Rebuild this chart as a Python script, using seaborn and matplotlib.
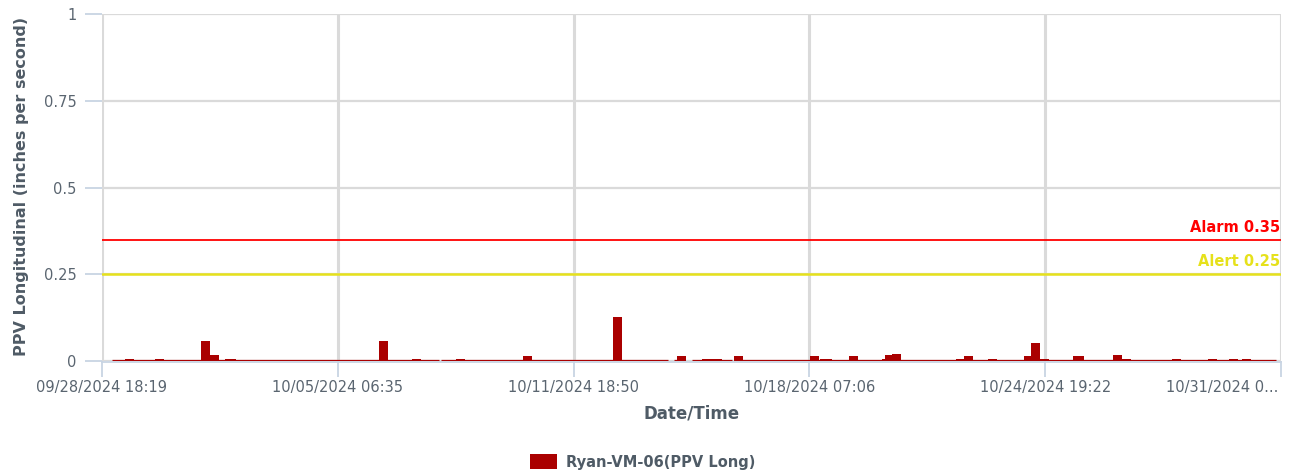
import matplotlib
matplotlib.use("Agg")
import numpy as np
import pandas as pd
import seaborn as sns
import matplotlib.pyplot as plt
import matplotlib.transforms as mtransforms
from matplotlib.patches import Patch

# ---- data (x in hours since 09/28/2024 18:19) ----
bar_hours = [18.2, 38.1, 68.6, 74.6, 76.5, 84.5, 85.8, 186.6, 208.4, 237.6,
             282.0, 341.6, 384.0, 400.6, 403.9, 407.9, 421.8, 472.2, 478.8, 480.8,
             498.0, 519.9, 521.9, 526.5, 568.9, 574.2, 590.1, 614.0, 618.6, 624.6,
             626.6, 646.5, 647.8, 673.0, 678.9, 682.3, 712.1, 735.9, 749.9, 758.5]
bar_values = [0.007, 0.007, 0.058, 0.016, 0.002, 0.007, 0.007, 0.058, 0.007, 0.007,
              0.013, 0.128, 0.013, 0.007, 0.007, 0.007, 0.013, 0.013, 0.007, 0.007,
              0.013, 0.007, 0.016, 0.021, 0.007, 0.013, 0.007, 0.013, 0.052, 0.007,
              0.002, 0.013, 0.013, 0.016, 0.007, 0.002, 0.007, 0.007, 0.007, 0.007]
# periods with tiny (near-zero) readings
baseline_start = [6.6, 224.6, 379.1, 391.0, 418.8]
baseline_end = [223.3, 375.1, 385.0, 417.5, 778.0]
baseline_value = 0.0017

tick_hours = [0, 156.27, 312.53, 468.8, 625.07, 781.33]
tick_labels = ["09/28/2024 18:19", "10/05/2024 06:35", "10/11/2024 18:50",
               "10/18/2024 07:06", "10/24/2024 19:22", "10/31/2024 0..."]
y_ticks = [0, 0.25, 0.5, 0.75, 1]
y_tick_labels = ["0", "0.25", "0.5", "0.75", "1"]
alarm_level = 0.35
alert_level = 0.25
series_name = "Ryan-VM-06(PPV Long)"
bar_width_hours = 6.0

# ---- style ----
BAR = "#aa0000"
GRID = "#dadada"
TICKC = "#c8d4e3"
TXT = "#5a6570"
TITLE = "#4f5b66"

sns.set_style("white")
plt.rcParams["font.family"] = ["DejaVu Sans"]

fig = plt.figure(figsize=(12.91, 4.75), dpi=100)
ax = fig.add_axes([102 / 1291, 1 - 361 / 475, (1281 - 102) / 1291, (361 - 14) / 475])

df = pd.DataFrame({"hours": bar_hours, "ppv": bar_values})
min_gap = np.min(np.diff(np.unique(df["hours"])))
sns.barplot(data=df, x="hours", y="ppv", native_scale=True, color=BAR,
            saturation=1, linewidth=0, errorbar=None,
            width=bar_width_hours / min_gap, ax=ax, zorder=3)

ax.hlines([baseline_value] * len(baseline_start), baseline_start, baseline_end,
          color=BAR, lw=0.9, zorder=2.5)
ax.axhline(-0.002, color=TICKC, lw=1.3, zorder=2, clip_on=False)

ax.set_xlim(tick_hours[0], tick_hours[-1])
ax.set_ylim(0, 1)
ax.set_xticks(tick_hours)
ax.set_xticklabels(tick_labels)
ax.set_yticks(y_ticks)
ax.set_yticklabels(y_tick_labels)
ax.set_xlabel("")
ax.set_ylabel("")
for s in ax.spines.values():
    s.set_visible(False)
ax.set_axisbelow(True)
ax.grid(True, axis="y", color=GRID, lw=1.6)
ax.grid(True, axis="x", color=GRID, lw=2.2)
ax.tick_params(axis="y", left=True, length=12, width=1.3, color=TICKC, pad=6.5,
               labelsize=10.5, labelcolor=TXT)
ax.tick_params(axis="x", bottom=True, length=11.5, width=1.3, color=TICKC, pad=2,
               labelsize=10.5, labelcolor=TXT)
xl = ax.get_xticklabels()
xl[-1].set_horizontalalignment("right")
xl[-1].set_transform(xl[-1].get_transform()
                     + mtransforms.ScaledTranslation(-3 / 100, 0, fig.dpi_scale_trans))

# threshold lines
ax.axhline(alarm_level, color="#ff0000", lw=1.3, zorder=4)
ax.axhline(alert_level, color="#e6e11b", lw=1.8, zorder=4)
ax.annotate(f"Alarm {alarm_level}", xy=(1.0, alarm_level), xycoords=("axes fraction", "data"),
            xytext=(-1, 8), textcoords="offset pixels", ha="right", va="baseline",
            color="#ff0000", fontsize=10.5, fontweight="bold", zorder=5)
ax.annotate(f"Alert {alert_level}", xy=(1.0, alert_level), xycoords=("axes fraction", "data"),
            xytext=(-1, 8), textcoords="offset pixels", ha="right", va="baseline",
            color="#e6e11b", fontsize=10.5, fontweight="bold", zorder=5)

# axis titles
fig.text(22 / 1291, 1 - 186 / 475, "PPV Longitudinal (inches per second)", rotation=90,
         ha="center", va="center", fontsize=11.5, fontweight="bold", color=TITLE)
fig.text(692 / 1291, 1 - 414 / 475, "Date/Time", ha="center", va="center",
         fontsize=12, fontweight="bold", color=TITLE)

# legend
fig.legend(handles=[Patch(facecolor=BAR, edgecolor="none", label=series_name)],
           loc="center left", bbox_to_anchor=(530 / 1291, 1 - 462 / 475),
           frameon=False, borderpad=0, borderaxespad=0, handlelength=1.85,
           handleheight=1.16, handletextpad=0.6,
           prop={"size": 10.5, "weight": "bold"}, labelcolor=TITLE)

fig.savefig("out.png", dpi=100)
